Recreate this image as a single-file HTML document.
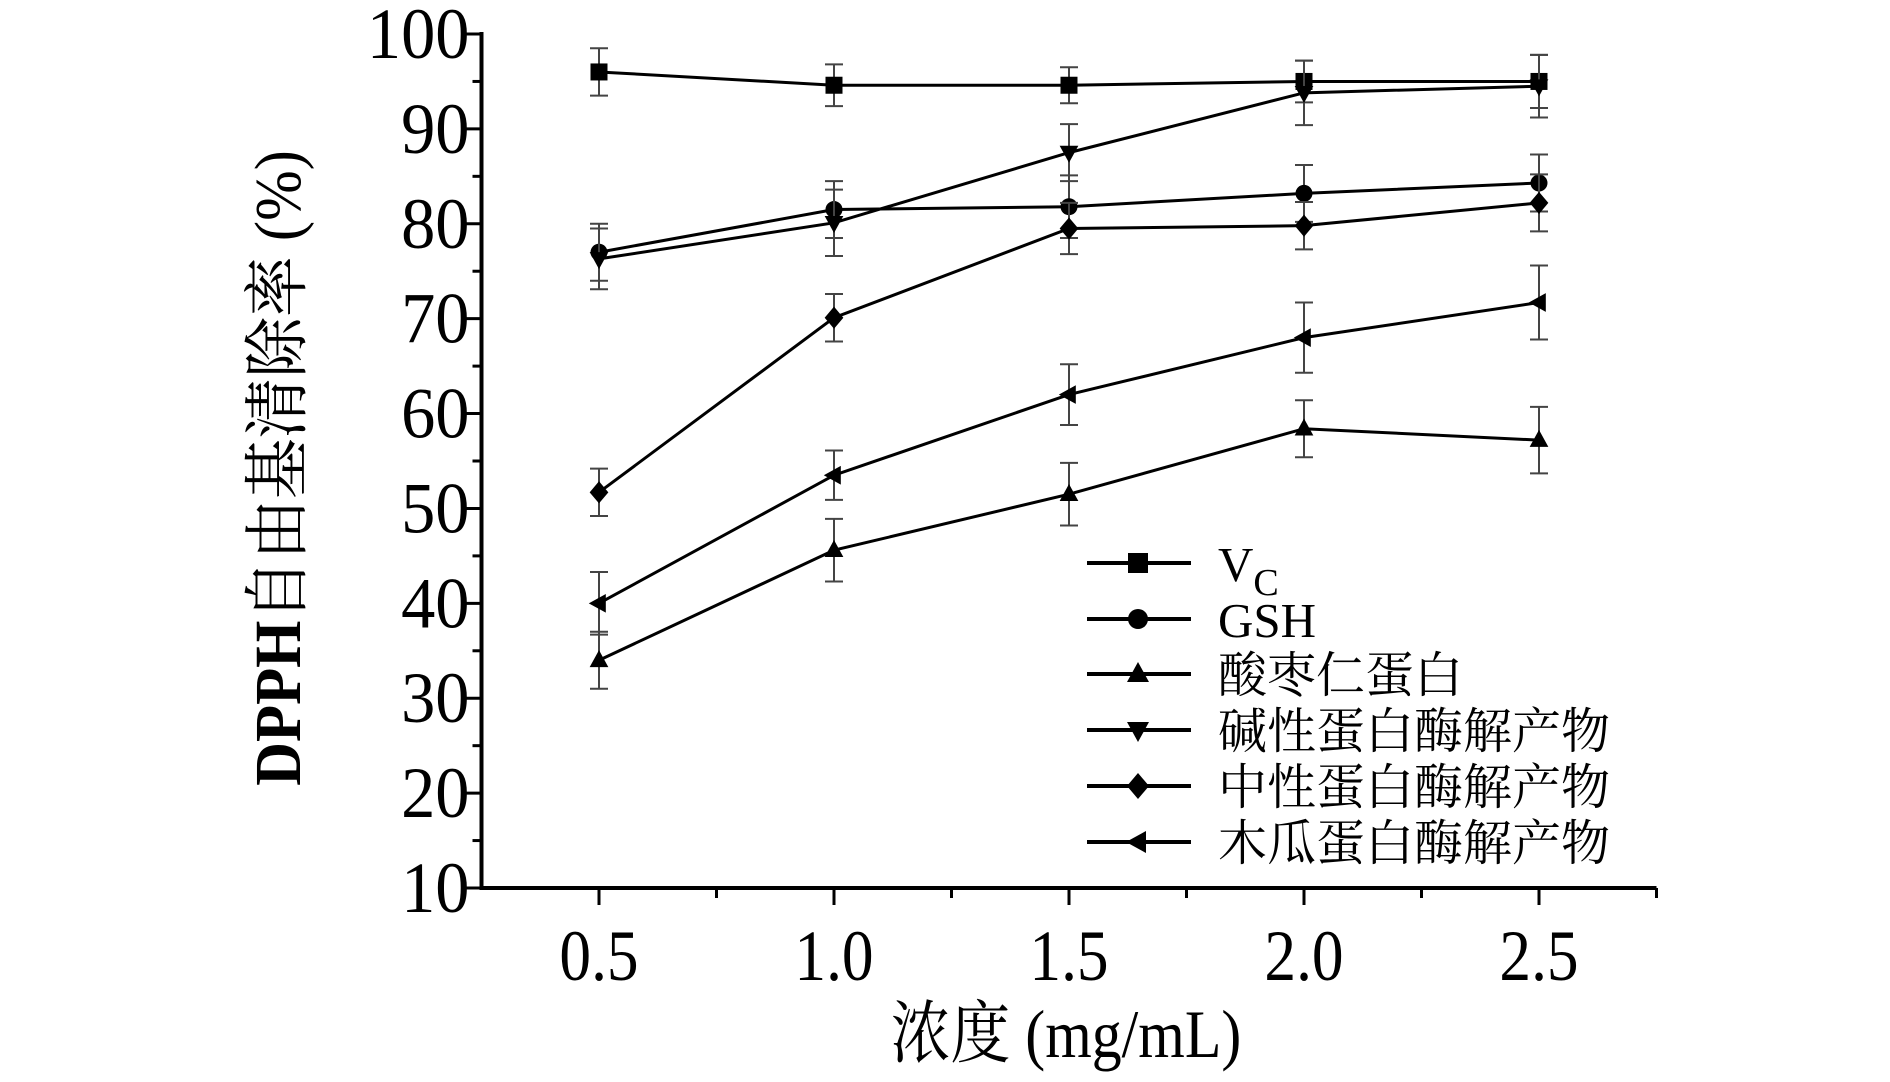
<!DOCTYPE html>
<html><head><meta charset="utf-8"><style>
body{margin:0;background:#fff}
svg text{font-family:"Liberation Serif","Noto Serif CJK SC","Noto Sans CJK SC",serif;fill:#000}
</style></head><body>
<svg id="chart" width="1890" height="1077" viewBox="0 0 1890 1077" xmlns="http://www.w3.org/2000/svg">
<g id="axes"></g>
<g id="series"></g>
<g id="legend"></g>
<text transform="translate(300,468) rotate(-90) scale(0.92,1)" text-anchor="middle" font-size="66"><tspan font-weight="bold">DPPH</tspan>自由基清除率 (%)</text>
<text transform="translate(1066,1057) scale(0.88,1)" text-anchor="middle" font-size="68">浓度 (mg/mL)</text>
</svg>
<script>
const xCats=[0.5,1.0,1.5,2.0,2.5];
const xTickLabels=["0.5","1.0","1.5","2.0","2.5"];
const yTicks=[10,20,30,40,50,60,70,80,90,100];
const seriesNames=["VC","GSH","酸枣仁蛋白","碱性蛋白酶解产物","中性蛋白酶解产物","木瓜蛋白酶解产物"];
const markers=["square","circle","up","down","diamond","left"];
const vcVals=[96,94.6,94.6,95,95];
const vcErr=[2.5,2.2,1.9,2.2,2.8];
const gshVals=[77,81.5,81.8,83.2,84.3];
const gshErr=[3,3,3.3,3,3];
const acidVals=[34,45.6,51.5,58.4,57.2];
const acidErr=[3,3.3,3.3,3,3.5];
const alkVals=[76.3,80.1,87.5,93.8,94.5];
const alkErr=[3.2,3.5,3,3.4,3.3];
const neuVals=[51.7,70.1,79.5,79.8,82.2];
const neuErr=[2.5,2.5,2.7,2.5,3];
const papVals=[40,53.5,62,68,71.7];
const papErr=[3.3,2.6,3.2,3.7,3.9];

const NS="http://www.w3.org/2000/svg";
const X0=481.5,X1=1656.5,XMIN=0.25,XMAX=2.75;
const Y0=888,Y1=34,YMIN=10,YMAX=100;
function sx(v){return X0+(v-XMIN)/(XMAX-XMIN)*(X1-X0);}
function sy(v){return Y0-(v-YMIN)/(YMAX-YMIN)*(Y0-Y1);}
function mk(tag,at,parent){const e=document.createElementNS(NS,tag);for(const k in at)e.setAttribute(k,at[k]);parent.appendChild(e);return e;}
const axes=document.getElementById('axes');
let l=mk('line',{x1:X0,y1:Y0,x2:X1,y2:Y0,stroke:'#000','stroke-width':4},axes);


l=mk('line',{x1:X0,y1:Y0+2,x2:X0,y2:Y1-2,stroke:'#000','stroke-width':4},axes);


yTicks.forEach((t,i)=>{
  const y=sy(t);
  let tk=mk('line',{x1:X0-18,y1:y,x2:X0,y2:y,stroke:'#000','stroke-width':3},axes);
  
  
  if(i<yTicks.length-1){let m=mk('line',{x1:X0-9,y1:sy(t+5),x2:X0,y2:sy(t+5),stroke:'#000','stroke-width':3},axes);
  
  }
  let tx=mk('text',{transform:`translate(${X0-12},${y+24}) scale(0.95,1)`,'text-anchor':'end','font-size':72},axes);
  tx.textContent=String(t);
  
  
});
xCats.forEach((c,i)=>{
  const x=sx(c);
  let tk=mk('line',{x1:x,y1:Y0,x2:x,y2:Y0+17,stroke:'#000','stroke-width':3},axes);
  
  
  let m=mk('line',{x1:sx(c+0.25),y1:Y0,x2:sx(c+0.25),y2:Y0+10,stroke:'#000','stroke-width':3},axes);
  
  
  let tx=mk('text',{transform:`translate(${x},${980}) scale(0.88,1)`,'text-anchor':'middle','font-size':72},axes);
  tx.textContent=xTickLabels[i];
  
  
});
function marker(type,x,y,s,parent){
  let e;
  if(type==='square')e=mk('rect',{x:x-s,y:y-s,width:2*s,height:2*s},parent);
  else if(type==='circle')e=mk('circle',{cx:x,cy:y,r:s},parent);
  else if(type==='up')e=mk('polygon',{points:`${x},${y-s*1.2} ${x-s*1.1},${y+s*0.8} ${x+s*1.1},${y+s*0.8}`},parent);
  else if(type==='down')e=mk('polygon',{points:`${x},${y+s*1.2} ${x-s*1.1},${y-s*0.8} ${x+s*1.1},${y-s*0.8}`},parent);
  else if(type==='diamond')e=mk('polygon',{points:`${x},${y-s*1.3} ${x+s*1.1},${y} ${x},${y+s*1.3} ${x-s*1.1},${y}`},parent);
  else e=mk('polygon',{points:`${x-s*1.2},${y} ${x+s*0.8},${y-s*1.1} ${x+s*0.8},${y+s*1.1}`},parent);
  e.setAttribute('fill','#000');
  return e;
}
const allVals=[vcVals,gshVals,acidVals,alkVals,neuVals,papVals];
const allErr=[vcErr,gshErr,acidErr,alkErr,neuErr,papErr];
const seriesG=document.getElementById('series');
allVals.forEach((vals,si)=>{
  const g=mk('g',{},seriesG);
  
  
  const pts=vals.map((v,i)=>sx(xCats[i])+','+sy(v)).join(' ');
  let pl=mk('polyline',{points:pts,fill:'none',stroke:'#000','stroke-width':3},g);
  
  
  vals.forEach((v,i)=>{
    const x=sx(xCats[i]),e=allErr[si][i];
    let eb=mk('path',{d:`M${x},${sy(v+e)}V${sy(v-e)}M${x-9},${sy(v+e)}H${x+9}M${x-9},${sy(v-e)}H${x+9}`,stroke:'#444','stroke-width':2,fill:'none'},g);
    
    
    let m=marker(markers[si],x,sy(v),8.5,g);
    
    
  });
});
const legend=document.getElementById('legend');
const ly=[563,619,674,730,786,842];
seriesNames.forEach((n,i)=>{
  const g=mk('g',{},legend);
  
  
  mk('line',{x1:1087,y1:ly[i],x2:1191,y2:ly[i],stroke:'#000','stroke-width':4},g);
  marker(markers[i],1138,ly[i],10,g);
  const t=mk('text',{x:1218,y:ly[i]+18,'font-size':49},g);
  if(i===0){t.textContent='V';const ts=mk('tspan',{'font-size':38,dy:14},t);ts.textContent='C';}
  else t.textContent=n;
});
</script>
</body></html>
